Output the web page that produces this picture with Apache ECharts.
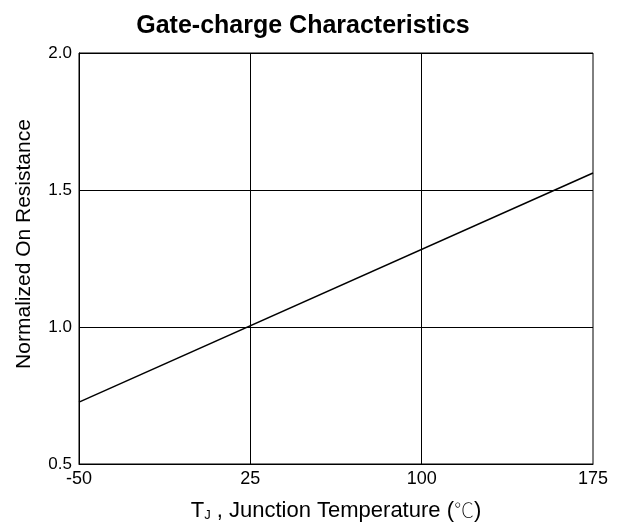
<!DOCTYPE html>
<html>
<head>
<meta charset="utf-8">
<script src="https://cdn.jsdelivr.net/npm/echarts@6/dist/echarts.min.js"></script>
<style>
  html, body { margin: 0; padding: 0; background: #fff; }
  #chart { width: 619px; height: 527px; }
</style>
</head>
<body>
<div id="chart"></div>
<script>
// Tj (deg C) vs normalized on-resistance
var tempC = [-50, 175];
var resistance = [0.726, 1.562];
var xTicks = [-50, 25, 100, 175];
var yTicks = [0.5, 1.0, 1.5, 2.0];

var font = 'Liberation Sans, Arial, Noto Sans CJK SC, sans-serif';

var myChart = echarts.init(document.getElementById('chart'));

// vertical grid lines only at the labelled temperatures
var vLines = xTicks.slice(1, -1).map(function (v) { return { xAxis: v }; });

var option = {
    backgroundColor: '#fff',
    animation: false,
    title: {
        text: 'Gate-charge Characteristics',
        left: 298,
        top: 9,
        textAlign: 'center',
        textStyle: {
            fontFamily: font,
            fontSize: 25,
            fontWeight: 'bold',
            color: '#000'
        }
    },
    grid: {
        left: 79,
        right: 26,
        top: 53,
        bottom: 63,
        show: true,
        borderColor: '#000',
        borderWidth: 1
    },
    xAxis: {
        type: 'value',
        min: -50,
        max: 175,
        interval: 25,
        name: '{n|T}{s|J}{n| , Junction Temperature (}{c|℃}{n|)}',
        nameLocation: 'middle',
        nameGap: 35,
        nameTextStyle: {
            rich: {
                n: { fontFamily: font, fontSize: 22, color: '#000' },
                c: { fontFamily: 'Noto Sans CJK SC', fontSize: 20, color: '#000', fontWeight: 'lighter' },
                s: { fontFamily: font, fontSize: 13, color: '#000', verticalAlign: 'bottom', padding: [10, 0, 0, 0] }
            }
        },
        axisLine: { show: true, onZero: false, lineStyle: { color: '#000', width: 1 } },
        axisTick: { show: false },
        axisLabel: {
            color: '#000',
            fontFamily: font,
            fontSize: 18,
            margin: 6,
            showMinLabel: true,
            showMaxLabel: true,
            formatter: function (v) { return xTicks.indexOf(v) >= 0 ? String(v) : ''; }
        },
        splitLine: { show: false }
    },
    yAxis: {
        type: 'value',
        min: 0.5,
        max: 2.0,
        interval: 0.5,
        name: 'Normalized On Resistance',
        nameLocation: 'middle',
        nameGap: 44,
        nameTextStyle: { fontFamily: font, fontSize: 21, color: '#000', padding: [0, 0, 0, 29] },
        axisLine: { show: true, onZero: false, lineStyle: { color: '#000', width: 1 } },
        axisTick: { show: false },
        axisLabel: {
            color: '#000',
            fontFamily: font,
            fontSize: 17,
            margin: 7,
            formatter: function (v) { return yTicks.indexOf(v) >= 0 ? v.toFixed(1) : ''; }
        },
        splitLine: { show: true, lineStyle: { color: '#000', width: 1 } }
    },
    series: [{
        type: 'line',
        data: tempC.map(function (t, i) { return [t, resistance[i]]; }),
        showSymbol: false,
        lineStyle: { color: '#000', width: 1.5 },
        markLine: {
            silent: true,
            symbol: 'none',
            label: { show: false },
            lineStyle: { color: '#000', width: 1, type: 'solid' },
            data: vLines
        }
    }]
};

myChart.setOption(option);
</script>
</body>
</html>
